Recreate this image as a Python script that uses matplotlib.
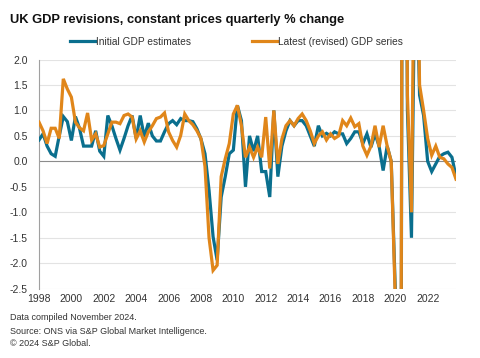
import numpy as np
import matplotlib
matplotlib.use("Agg")
import matplotlib.pyplot as plt

plt.rcParams['font.family'] = ['Liberation Sans', 'DejaVu Sans']

# Quarterly % change, 1998Q1 .. 2023Q4
initial = [0.42, 0.54, 0.3, 0.15, 0.1, 0.5, 0.88, 0.78, 0.41, 0.88,
           0.65, 0.3, 0.3, 0.3, 0.6, 0.2, 0.1, 0.9, 0.7, 0.45,
           0.22, 0.45, 0.7, 0.9, 0.45, 0.9, 0.48, 0.75, 0.5, 0.4,
           0.4, 0.58, 0.74, 0.8, 0.72, 0.84, 0.8, 0.8, 0.78, 0.64,
           0.44, 0.15, -0.57, -1.48, -1.94, -0.7, -0.3, 0.15, 0.22, 1.1,
           0.8, -0.5, 0.5, 0.2, 0.5, -0.2, -0.2, -0.7, 1.0, -0.3,
           0.3, 0.6, 0.8, 0.7, 0.8, 0.8, 0.7, 0.5, 0.3, 0.7,
           0.5, 0.55, 0.5, 0.58, 0.54, 0.54, 0.35, 0.45, 0.58, 0.58,
           0.35, 0.54, 0.28, 0.54, 0.3, -0.18, 0.3, 0.0, -2.5, -20.4,
           15.5, 1.0, -1.5, 4.8, 1.3, 0.9, 0.0, -0.2, -0.05, 0.1,
           0.15, 0.18, 0.08, -0.3]

revised = [0.77, 0.6, 0.35, 0.65, 0.65, 0.45, 1.62, 1.42, 1.26, 0.77,
           0.66, 0.6, 0.95, 0.42, 0.54, 0.28, 0.31, 0.54, 0.77, 0.77,
           0.74, 0.9, 0.93, 0.87, 0.44, 0.6, 0.38, 0.58, 0.7, 0.84,
           0.87, 0.95, 0.58, 0.41, 0.28, 0.51, 0.93, 0.8, 0.72, 0.6,
           0.45, -0.1, -1.5, -2.14, -2.04, -0.3, 0.05, 0.35, 0.93, 1.1,
           0.7, 0.08, 0.28, 0.08, 0.28, 0.08, 0.87, -0.14, 1.0, -0.05,
           0.44, 0.7, 0.8, 0.7, 0.84, 0.93, 0.8, 0.6, 0.35, 0.5,
           0.58, 0.42, 0.54, 0.45, 0.5, 0.8, 0.7, 0.85, 0.68, 0.74,
           0.3, 0.12, 0.3, 0.7, 0.28, 0.7, 0.3, 0.0, -2.7, -20.3,
           16.8, 1.3, -1.0, 6.8, 1.5, 1.0, 0.45, 0.12, 0.3, 0.08,
           0.05, -0.05, -0.12, -0.35]

year_labels = ['1998', '2000', '2002', '2004', '2006', '2008', '2010',
               '2012', '2014', '2016', '2018', '2020', '2022']
y_ticks = [2.0, 1.5, 1.0, 0.5, 0.0, -0.5, -1.0, -1.5, -2.0, -2.5]

BLUE = '#0a6f8e'
ORANGE = '#e0861a'
GRID = '#e3e3e3'
TXT = '#333333'

fig = plt.figure(figsize=(4.8, 3.58), dpi=100)
ax = fig.add_axes([39/480, 1-288.7/358, (456-39)/480, (288.7-59.5)/358])

x = np.arange(len(initial))
ax.plot(x, initial, color=BLUE, lw=2.3, solid_joinstyle='miter', zorder=3,
        label='Initial GDP estimates')
ax.plot(x, revised, color=ORANGE, lw=2.3, solid_joinstyle='miter', zorder=4,
        label='Latest (revised) GDP series')

ax.set_xlim(0, len(initial) - 1)
ax.set_ylim(-2.5, 2.0)
ax.set_yticks(y_ticks)
ax.set_yticklabels([f'{v:.1f}' for v in y_ticks])
for v in y_ticks:
    if v != 0:
        ax.axhline(v, color=GRID, lw=0.8, zorder=1)
ax.axhline(0, color='#8c8c8c', lw=0.8, zorder=2)

# one label every 8 quarters (two years), at Q1
ax.set_xticks([8 * k for k in range(len(year_labels))])
ax.set_xticklabels(year_labels)

for s in ['top', 'right', 'bottom']:
    ax.spines[s].set_visible(False)
ax.spines['left'].set_color('#a0a0a0')
ax.spines['left'].set_linewidth(0.8)
ax.tick_params(axis='both', length=0, labelsize=7.5, colors=TXT, pad=4)
ax.tick_params(axis='y', pad=8)

fig.text(10/480, 1-20/358, 'UK GDP revisions, constant prices quarterly % change',
         fontsize=9.3, fontweight='bold', color='#111111', va='center', ha='left')

leg = fig.legend(loc='center', bbox_to_anchor=(0.493, 1-42/358), ncol=2,
                 frameon=False, fontsize=7.3, handlelength=2.5, handletextpad=0.1,
                 columnspacing=6.0)
for t in leg.get_texts():
    t.set_color(TXT)

notes = ['Data compiled November 2024.',
         'Source: ONS via S&P Global Market Intelligence.',
         '© 2024 S&P Global.']
for k, n in enumerate(notes):
    fig.text(10/480, 1-(318 + 13*k)/358, n, fontsize=6.5, color=TXT,
             va='center', ha='left')

fig.savefig('out.png', dpi=100)
